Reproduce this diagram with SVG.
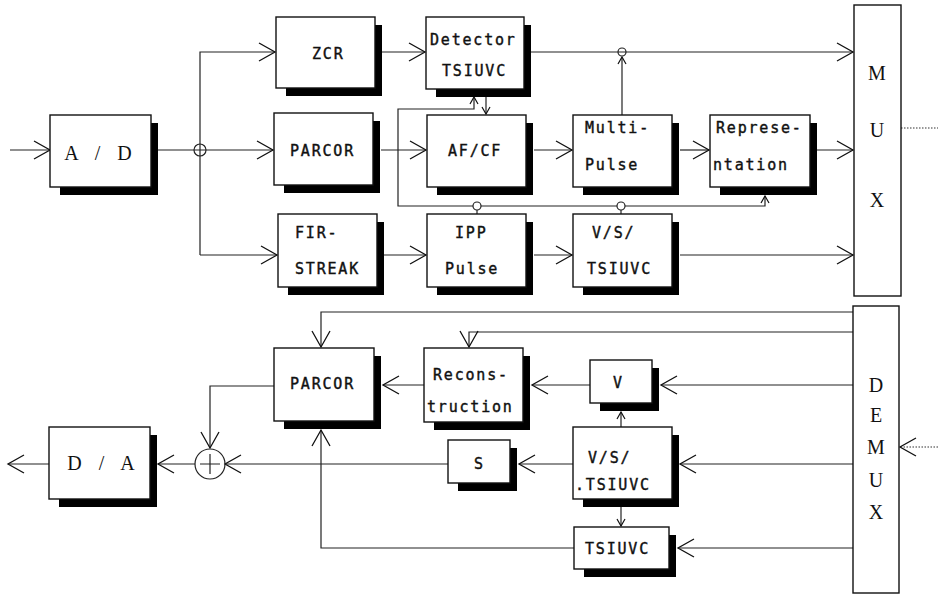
<svg xmlns="http://www.w3.org/2000/svg" width="938" height="594" viewBox="0 0 938 594">
<style>
.box{fill:#fff;stroke:#111;stroke-width:1.4}
.sh{fill:#000}
.ln{fill:none;stroke:#222;stroke-width:1.2}
.dot{fill:none;stroke:#333;stroke-width:1.2;stroke-dasharray:1.5 1.5}
.t{font-family:"DejaVu Sans Mono","Liberation Mono",monospace;font-size:15px;letter-spacing:1.8px;fill:#111;stroke:#111;stroke-width:0.4}
.s{font-family:"Liberation Serif","Times New Roman",serif;font-size:20px;fill:#111;text-anchor:middle}
.ad{letter-spacing:6px}
.c{fill:none;stroke:#222;stroke-width:1.2}
</style>
<defs>
<marker id="a" viewBox="-20 -12 24 24" refX="0" refY="0" markerWidth="24" markerHeight="24" markerUnits="userSpaceOnUse" orient="auto" overflow="visible">
<path d="M-16,-9 L0,0 L-16,9" fill="none" stroke="#111" stroke-width="1.3"/>
</marker>
<marker id="m" viewBox="-10 -6 12 12" refX="0" refY="0" markerWidth="12" markerHeight="12" markerUnits="userSpaceOnUse" orient="auto" overflow="visible">
<path d="M-7,-4 L0,0 L-7,4" fill="none" stroke="#111" stroke-width="1.2"/>
</marker>
</defs>

<g id="connectors">
<path class="ln" d="M10,150 H50" marker-end="url(#a)"/>
<path class="ln" d="M151,150 H273" marker-end="url(#a)"/>
<circle class="c" cx="200" cy="150" r="6"/>
<path class="ln" d="M200,255 V52 H275" marker-end="url(#a)"/>
<path class="ln" d="M200,255 H277" marker-end="url(#a)"/>
<path class="ln" d="M375,52 H425" marker-end="url(#a)"/>
<path class="ln" d="M524,52 H853" marker-end="url(#a)"/>
<circle class="c" cx="622" cy="52" r="4"/>
<path class="ln" d="M622,115 V57" marker-end="url(#m)"/>
<path class="ln" d="M381,150 H426" marker-end="url(#a)"/>
<path class="ln" d="M534,150 H572" marker-end="url(#a)"/>
<path class="ln" d="M680,150 H709" marker-end="url(#a)"/>
<path class="ln" d="M817,150 H853" marker-end="url(#a)"/>
<path class="ln" d="M384,255 H426" marker-end="url(#a)"/>
<path class="ln" d="M534,255 H572" marker-end="url(#a)"/>
<path class="ln" d="M680,255 H853" marker-end="url(#a)"/>
<path class="ln" d="M486,97 V114" marker-end="url(#m)"/>
<path class="ln" d="M473,206 H398 V109 H474 V97" marker-end="url(#m)"/>
<circle class="c" cx="477" cy="206" r="4"/>
<path class="ln" d="M477,210 V214"/>
<path class="ln" d="M481,206 H617"/>
<circle class="c" cx="621" cy="206" r="4"/>
<path class="ln" d="M621,210 V214"/>
<path class="ln" d="M625,206 H765 V196" marker-end="url(#m)"/>
<path class="dot" d="M901,128 H938"/>
<path class="dot" d="M938,447 H900" marker-end="url(#a)"/>
<path class="ln" d="M853,312 H321 V347" marker-end="url(#a)"/>
<path class="ln" d="M853,332 H469 V347" marker-end="url(#a)"/>
<path class="ln" d="M853,385 H661" marker-end="url(#a)"/>
<path class="ln" d="M590,385 H532" marker-end="url(#a)"/>
<path class="ln" d="M424,385 H383" marker-end="url(#a)"/>
<path class="ln" d="M853,464 H680" marker-end="url(#a)"/>
<path class="ln" d="M573,464 H519" marker-end="url(#a)"/>
<path class="ln" d="M448,464 H225" marker-end="url(#a)"/>
<path class="ln" d="M853,548 H678" marker-end="url(#a)"/>
<path class="ln" d="M574,548 H321 V430" marker-end="url(#a)"/>
<path class="ln" d="M621,427 V412" marker-end="url(#m)"/>
<path class="ln" d="M621,507 V526" marker-end="url(#m)"/>
<path class="ln" d="M274,386 H210 V448" marker-end="url(#a)"/>
<circle class="c" cx="210" cy="464" r="15"/>
<path class="ln" d="M210,454 V474 M200,464 H220"/>
<path class="ln" d="M195,464 H158" marker-end="url(#a)"/>
<path class="ln" d="M49,464 H8" marker-end="url(#a)"/>
</g>

<g id="ad"><rect class="sh" x="60" y="123" width="98" height="72"/><rect class="box" x="50" y="115" width="101" height="72"/><text class="s ad" x="101" y="160">A / D</text></g>
<g id="zcr"><rect class="sh" x="286" y="25" width="96" height="71"/><rect class="box" x="276" y="17" width="99" height="71"/><text class="t" x="312" y="59">ZCR</text></g>
<g id="parcor-enc"><rect class="sh" x="284" y="121" width="96" height="72"/><rect class="box" x="274" y="113" width="99" height="72"/><text class="t" x="290" y="156">PARCOR</text></g>
<g id="fir"><rect class="sh" x="288" y="222" width="96" height="73"/><rect class="box" x="278" y="214" width="99" height="73"/><text class="t" x="295" y="238">FIR-</text><text class="t" x="295" y="274">STREAK</text></g>
<g id="detector"><rect class="sh" x="436" y="25" width="95" height="72"/><rect class="box" x="426" y="17" width="98" height="72"/><text class="t" x="430" y="45">Detector</text><text class="t" x="442" y="76">TSIUVC</text></g>
<g id="afcf"><rect class="sh" x="437" y="123" width="96" height="72"/><rect class="box" x="427" y="115" width="99" height="72"/><text class="t" x="448" y="156">AF/CF</text></g>
<g id="ipp"><rect class="sh" x="437" y="222" width="96" height="73"/><rect class="box" x="427" y="214" width="99" height="73"/><text class="t" x="455" y="238">IPP</text><text class="t" x="445" y="274">Pulse</text></g>
<g id="multipulse"><rect class="sh" x="583" y="123" width="96" height="72"/><rect class="box" x="573" y="115" width="99" height="72"/><text class="t" x="585" y="133">Multi-</text><text class="t" x="585" y="170">Pulse</text></g>
<g id="representation"><rect class="sh" x="720" y="123" width="97" height="72"/><rect class="box" x="710" y="115" width="100" height="72"/><text class="t" x="716" y="133">Represe-</text><text class="t" x="713" y="170">ntation</text></g>
<g id="vst-enc"><rect class="sh" x="583" y="222" width="96" height="73"/><rect class="box" x="573" y="214" width="99" height="73"/><text class="t" x="592" y="238">V/S/</text><text class="t" x="587" y="274">TSIUVC</text></g>
<g id="mux"><rect class="box" x="854" y="5" width="47" height="291"/><text class="s" x="877" y="80">M</text><text class="s" x="877" y="137">U</text><text class="s" x="877" y="207">X</text></g>

<g id="demux"><rect class="box" x="853" y="306" width="46" height="287"/><text class="s" x="876" y="392">D</text><text class="s" x="876" y="422">E</text><text class="s" x="876" y="454">M</text><text class="s" x="876" y="487">U</text><text class="s" x="876" y="519">X</text></g>
<g id="parcor-dec"><rect class="sh" x="284" y="356" width="97" height="73"/><rect class="box" x="274" y="348" width="100" height="73"/><text class="t" x="290" y="389">PARCOR</text></g>
<g id="reconstruction"><rect class="sh" x="434" y="356" width="96" height="74"/><rect class="box" x="424" y="348" width="99" height="74"/><text class="t" x="433" y="380">Recons-</text><text class="t" x="427" y="412">truction</text></g>
<g id="v"><rect class="sh" x="600" y="368" width="59" height="43"/><rect class="box" x="590" y="360" width="62" height="43"/><text class="t" x="613" y="388">V</text></g>
<g id="vst-dec"><rect class="sh" x="583" y="435" width="96" height="72"/><rect class="box" x="573" y="427" width="99" height="72"/><text class="t" x="588" y="463">V/S/</text><text class="t" x="575" y="490">.TSIUVC</text></g>
<g id="tsiuvc"><rect class="sh" x="584" y="535" width="92" height="42"/><rect class="box" x="574" y="527" width="95" height="42"/><text class="t" x="585" y="554">TSIUVC</text></g>
<g id="s"><rect class="sh" x="458" y="448" width="59" height="43"/><rect class="box" x="448" y="440" width="62" height="43"/><text class="t" x="474" y="469">S</text></g>
<g id="da"><rect class="sh" x="59" y="435" width="98" height="72"/><rect class="box" x="49" y="427" width="101" height="72"/><text class="s ad" x="104" y="470">D / A</text></g>
</svg>
